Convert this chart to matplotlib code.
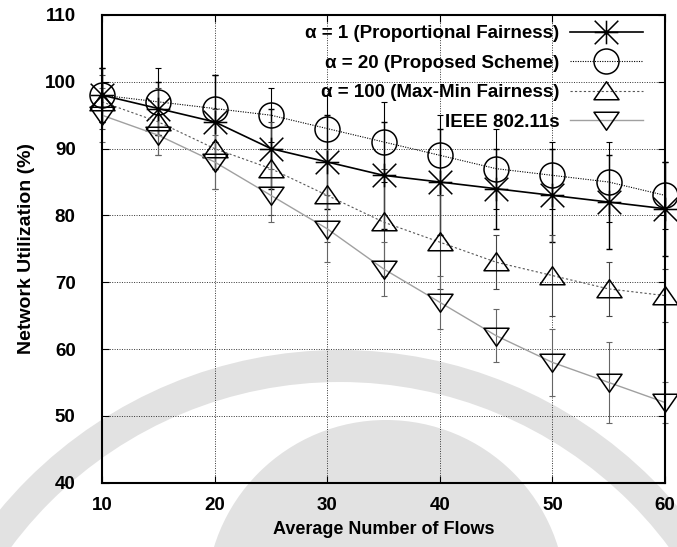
import matplotlib
matplotlib.use("Agg")
import matplotlib.pyplot as plt
from matplotlib.path import Path
from matplotlib.patches import Wedge, Circle

plt.rcParams['font.family'] = ['Liberation Sans', 'DejaVu Sans']

# Average number of flows
flows = [10, 15, 20, 25, 30, 35, 40, 45, 50, 55, 60]

# Network utilization (%) and error-bar half-widths per scheme
prop_fair = [98, 96, 94, 90, 88, 86, 85, 84, 83, 82, 81]
prop_fair_err = [4, 4, 7, 6, 7, 8, 8, 6, 7, 7, 7]

proposed = [98, 97, 96, 95, 93, 91, 89, 87, 86, 85, 83]
proposed_err = [4, 5, 5, 4, 5, 6, 6, 6, 5, 6, 5]

max_min = [97, 94, 90, 87, 83, 79, 76, 73, 71, 69, 68]
max_min_err = [4, 5, 6, 7, 7, 8, 7, 4, 6, 4, 4]

ieee = [95, 92, 88, 83, 78, 72, 67, 62, 58, 55, 52]
ieee_err = [4, 3, 4, 4, 5, 4, 4, 4, 5, 6, 3]

labels = ["α = 1 (Proportional Fairness)",
          "α = 20 (Proposed Scheme)",
          "α = 100 (Max-Min Fairness)",
          "IEEE 802.11s"]

x_ticks = [10, 20, 30, 40, 50, 60]
y_ticks = [40, 50, 60, 70, 80, 90, 100, 110]

# gnuplot-like point shapes
star = Path([(-1, 0), (1, 0), (0, -1), (0, 1), (-1, -1), (1, 1), (-1, 1), (1, -1)],
            [Path.MOVETO, Path.LINETO] * 4)
tri_up = Path([(-1, -0.66), (1, -0.66), (0, 0.78), (-1, -0.66)],
              [Path.MOVETO, Path.LINETO, Path.LINETO, Path.CLOSEPOLY])
tri_down = Path([(-1, 0.66), (1, 0.66), (0, -0.78), (-1, 0.66)],
                [Path.MOVETO, Path.LINETO, Path.LINETO, Path.CLOSEPOLY])

fig = plt.figure(figsize=(6.77, 5.47), dpi=100)
ax = fig.add_axes([0.1507, 0.1176, 0.8316, 0.855])
ax.set_facecolor('none')

# faint background emblem, drawn in figure pixels behind the axes
fig.add_artist(Wedge((340, 547 - 792), 442, 0, 180, width=32, transform=None,
                     facecolor='#e2e2e2', edgecolor='none', zorder=-2))
fig.add_artist(Circle((386, 547 - 600), 180, transform=None,
                      facecolor='#e2e2e2', edgecolor='none', zorder=-2))

series = [
    (prop_fair, prop_fair_err, dict(color='black', lw=1.2, ls='-'),
     star, 17, dict(color='black', lw=1.0, ls='-')),
    (proposed, proposed_err, dict(color='black', lw=0.8, ls=(0, (1, 1.2))),
     'o', 18, dict(color='black', lw=0.8, ls=(0, (1, 1.2)))),
    (max_min, max_min_err, dict(color='#555555', lw=0.8, ls=(0, (2, 2))),
     tri_up, 18, dict(color='#444444', lw=0.8, ls=(0, (2, 2)))),
    (ieee, ieee_err, dict(color='#a0a0a0', lw=1.0, ls='-'),
     tri_down, 18, dict(color='#666666', lw=0.8, ls=(0, (1, 1.2)))),
]

handles = []
for vals, errs, lstyle, mk, ms, estyle in series:
    eb = ax.errorbar(flows, vals, yerr=errs, fmt='none', ecolor=estyle['color'],
                     elinewidth=estyle['lw'], capsize=2.5, capthick=estyle['lw'],
                     linestyle=estyle['ls'], zorder=2)
    for art in eb.get_children():
        art.set_clip_on(False)
    ln, = ax.plot(flows, vals, color=lstyle['color'], lw=lstyle['lw'],
                  ls=lstyle['ls'], marker=mk, markersize=ms,
                  markerfacecolor='none', markeredgecolor='black',
                  markeredgewidth=1.1, zorder=3, clip_on=False)
    handles.append(ln)

ax.set_xlim(10, 60)
ax.set_ylim(40, 110)
ax.set_xticks(x_ticks)
ax.set_yticks(y_ticks)
ax.tick_params(direction='in', length=5, width=0.8, top=True, right=True)
ax.tick_params(axis='y', pad=19)
ax.tick_params(axis='x', pad=10)
for t in ax.get_yticklabels() + ax.get_xticklabels():
    t.set_fontweight('bold')
    t.set_fontsize(13.5)

ax.grid(True, color='#333333', lw=0.7, ls=(0, (1, 1.5)))
ax.set_axisbelow(True)
for sp in ax.spines.values():
    sp.set_linewidth(1.5)
    sp.set_zorder(4)

ax.set_xlabel("Average Number of Flows", fontsize=13, fontweight='bold', labelpad=5)
ax.set_ylabel("Network Utilization (%)", fontsize=14, fontweight='bold', labelpad=7)

leg = ax.legend(handles, labels, loc='upper right', bbox_to_anchor=(0.961, 0.978),
                markerfirst=False, frameon=False, handlelength=3.9, numpoints=1,
                labelspacing=0.66, borderaxespad=0, borderpad=0, handletextpad=0.55,
                prop={'weight': 'bold', 'size': 13.5})

fig.savefig("out.png", dpi=100)
